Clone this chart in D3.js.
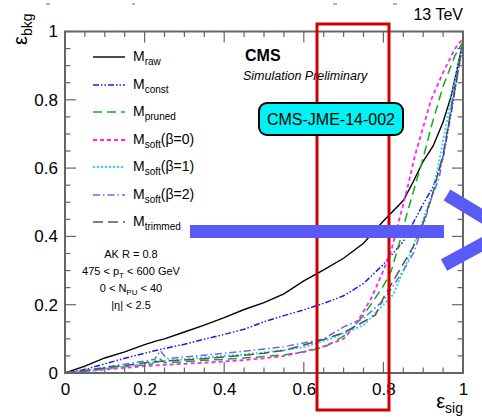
<!DOCTYPE html>
<html><head><meta charset="utf-8">
<script src="https://cdn.jsdelivr.net/npm/d3@7"></script>
<style>
body{margin:0;background:#fff;}
svg{display:block;font-family:"Liberation Sans",Arial,Helvetica,sans-serif;}
</style></head>
<body><svg id="c" width="482" height="419"></svg>
<script>
// ---- data ----
const rawData = [[0,0],[0.05,0.02],[0.1,0.044],[0.15,0.062],[0.2,0.083],[0.23,0.094],[0.25,0.1],[0.3,0.12],[0.35,0.14],[0.4,0.162],[0.45,0.186],[0.5,0.206],[0.55,0.232],[0.6,0.27],[0.65,0.302],[0.7,0.336],[0.75,0.38],[0.8,0.445],[0.85,0.505],[0.875,0.56],[0.9,0.62],[0.925,0.665],[0.95,0.735],[0.97,0.81],[0.985,0.89],[1,0.97]];
const constData = [[0,0],[0.05,0.01],[0.1,0.027],[0.15,0.043],[0.2,0.058],[0.25,0.072],[0.3,0.084],[0.35,0.099],[0.4,0.113],[0.45,0.128],[0.5,0.15],[0.55,0.168],[0.6,0.185],[0.65,0.204],[0.7,0.226],[0.75,0.262],[0.8,0.318],[0.85,0.385],[0.9,0.495],[0.925,0.545],[0.95,0.63],[0.97,0.76],[0.99,0.9],[1,0.97]];
const prunedData = [[0,0],[0.05,0.006],[0.1,0.012],[0.15,0.018],[0.2,0.024],[0.22,0.027],[0.235,0.045],[0.25,0.03],[0.3,0.033],[0.35,0.037],[0.4,0.04],[0.45,0.044],[0.5,0.048],[0.55,0.053],[0.6,0.062],[0.65,0.075],[0.7,0.108],[0.73,0.14],[0.75,0.17],[0.78,0.22],[0.8,0.255],[0.82,0.3],[0.84,0.38],[0.86,0.47],[0.88,0.55],[0.9,0.63],[0.92,0.72],[0.95,0.84],[0.98,0.93],[1,0.97]];
const soft0Data = [[0,0],[0.05,0.005],[0.1,0.01],[0.15,0.015],[0.2,0.02],[0.25,0.024],[0.3,0.027],[0.35,0.03],[0.4,0.034],[0.45,0.038],[0.5,0.043],[0.55,0.05],[0.6,0.062],[0.65,0.078],[0.7,0.1],[0.73,0.14],[0.75,0.18],[0.77,0.22],[0.8,0.3],[0.82,0.36],[0.84,0.45],[0.86,0.54],[0.88,0.64],[0.9,0.72],[0.92,0.8],[0.95,0.88],[0.98,0.95],[1,0.98]];
const soft1Data = [[0,0],[0.05,0.006],[0.1,0.013],[0.15,0.02],[0.2,0.027],[0.25,0.036],[0.3,0.04],[0.35,0.045],[0.4,0.05],[0.45,0.054],[0.5,0.06],[0.55,0.067],[0.6,0.076],[0.65,0.093],[0.7,0.116],[0.75,0.14],[0.8,0.2],[0.825,0.23],[0.85,0.3],[0.875,0.37],[0.9,0.45],[0.925,0.53],[0.94,0.62],[0.96,0.74],[0.98,0.86],[1,0.97]];
const soft2Data = [[0,0],[0.05,0.007],[0.1,0.017],[0.15,0.026],[0.2,0.035],[0.225,0.04],[0.24,0.065],[0.255,0.042],[0.3,0.047],[0.35,0.052],[0.4,0.058],[0.45,0.064],[0.5,0.07],[0.55,0.077],[0.6,0.088],[0.65,0.1],[0.7,0.135],[0.75,0.16],[0.8,0.212],[0.85,0.3],[0.875,0.35],[0.9,0.43],[0.92,0.51],[0.94,0.57],[0.96,0.7],[0.98,0.85],[1,0.96]];
const trimmedData = [[0,0],[0.05,0.007],[0.1,0.015],[0.15,0.022],[0.2,0.03],[0.25,0.035],[0.3,0.038],[0.35,0.042],[0.4,0.047],[0.45,0.052],[0.5,0.058],[0.55,0.066],[0.6,0.082],[0.65,0.098],[0.7,0.118],[0.75,0.15],[0.78,0.17],[0.8,0.22],[0.85,0.32],[0.875,0.37],[0.9,0.44],[0.925,0.53],[0.95,0.64],[0.97,0.77],[0.99,0.9],[1,0.97]];

const seriesNames = ["raw","const","pruned","soft","soft","soft","trimmed"];
const seriesSuffix = ["","","","(β=0)","(β=1)","(β=2)",""];
const seriesData = [rawData,constData,prunedData,soft0Data,soft1Data,soft2Data,trimmedData];
const xTickLabels = ["0","0.2","0.4","0.6","0.8","1"];
const yTickLabels = ["0","0.2","0.4","0.6","0.8","1"];
const infoLines = ["AK R = 0.8","475 < p_T < 600 GeV","0 < N_PU < 40","|η| < 2.5"];

// ---- styles ----
const styles = [
  {c:"#000000", d:null, w:1.4},
  {c:"#1a1aee", d:"6,2,1.5,2,1.5,2", w:1.5},
  {c:"#10b010", d:"9,5", w:1.5},
  {c:"#ff22ff", d:"4,3", w:1.8},
  {c:"#22e0e8", d:"2,2", w:2},
  {c:"#6a6ae8", d:"7,3,1.5,3", w:1.5},
  {c:"#555555", d:"10,5", w:1.5}
];

const svg = d3.select("#c");
const L=65, R=463, T=31.5, B=373;
const x = d3.scaleLinear().domain([0,1]).range([L,R]);
const y = d3.scaleLinear().domain([0,1]).range([B,T]);
const axisColor="#666";

// faint cut-off marks at the very top
[[46,50],[132,135],[333,337],[393,397]].forEach(p=>{
  svg.append("line").attr("x1",p[0]).attr("x2",p[1]).attr("y1",4).attr("y2",4).attr("stroke","#999").attr("stroke-width",1.5);
});

// curves
const line = d3.line().x(d=>x(d[0])).y(d=>y(d[1]));
seriesData.forEach((s,i)=>{
  svg.append("path").datum(s).attr("d",line).attr("fill","none")
    .attr("stroke",styles[i].c).attr("stroke-width",styles[i].w)
    .attr("stroke-dasharray",styles[i].d);
});

// axes frame with inward ticks
const minor = d3.range(0,1.0001,0.05);
const major = d3.range(0,1.0001,0.2);
function isMajor(v){return Math.abs(v*5-Math.round(v*5))<1e-6;}
const gAx = svg.append("g").attr("stroke",axisColor);
gAx.append("rect").attr("x",L).attr("y",T).attr("width",R-L).attr("height",B-T)
  .attr("fill","none").attr("stroke-width",2);
minor.forEach(v=>{
  const len = isMajor(v)?11:5.5;
  gAx.append("line").attr("x1",x(v)).attr("x2",x(v)).attr("y1",B).attr("y2",B-len).attr("stroke-width",1.2);
  gAx.append("line").attr("x1",x(v)).attr("x2",x(v)).attr("y1",T).attr("y2",T+len).attr("stroke-width",1.2);
  gAx.append("line").attr("y1",y(v)).attr("y2",y(v)).attr("x1",L).attr("x2",L+len).attr("stroke-width",1.2);
  gAx.append("line").attr("y1",y(v)).attr("y2",y(v)).attr("x1",R).attr("x2",R-len).attr("stroke-width",1.2);
});
// tick labels via axis generators (labels only)
const xAxis = d3.axisBottom(x).tickValues(major).tickSize(0).tickPadding(10)
  .tickFormat((d,i)=>xTickLabels[i]);
const gx = svg.append("g").attr("transform",`translate(0,${B})`).call(xAxis);
gx.select(".domain").remove();
gx.selectAll("text").attr("font-size",17).attr("fill","#000").attr("font-family","Liberation Sans, Arial, sans-serif");
const yAxis = d3.axisLeft(y).tickValues(major).tickSize(0).tickPadding(7)
  .tickFormat((d,i)=>yTickLabels[i]);
const gy = svg.append("g").attr("transform",`translate(${L},0)`).call(yAxis);
gy.select(".domain").remove();
gy.selectAll("text").attr("font-size",17).attr("fill","#000").attr("font-family","Liberation Sans, Arial, sans-serif");

// axis titles
const xt = svg.append("text").attr("x",R).attr("y",408).attr("text-anchor","end").attr("font-size",20);
xt.append("tspan").text("ε");
xt.append("tspan").attr("font-size",14).attr("dy",5).text("sig");
const yt = svg.append("text").attr("transform","translate(27,45) rotate(-90)").attr("text-anchor","start").attr("font-size",20);
yt.append("tspan").text("ε");
yt.append("tspan").attr("font-size",14).attr("dy",5).text("bkg");

// 13 TeV
svg.append("text").attr("x",R).attr("y",20).attr("text-anchor","end").attr("font-size",16).text("13 TeV");

// CMS labels
svg.append("text").attr("x",245).attr("y",61).attr("font-size",16).attr("font-weight","bold").text("CMS");
svg.append("text").attr("x",243).attr("y",80).attr("font-size",12.5).attr("font-style","italic").text("Simulation Preliminary");

// legend
const rowY = [57,85,112,140,167,195,222];
seriesData.forEach((s,i)=>{
  svg.append("line").attr("x1",93).attr("x2",125).attr("y1",rowY[i]).attr("y2",rowY[i])
    .attr("stroke",styles[i].c).attr("stroke-width",styles[i].w).attr("stroke-dasharray",styles[i].d);
  const t = svg.append("text").attr("x",133).attr("y",rowY[i]+4).attr("font-size",14);
  t.append("tspan").text("M");
  t.append("tspan").attr("font-size",10).attr("dy",4).text(seriesNames[i]);
  if(seriesSuffix[i]) t.append("tspan").attr("dy",-4).text(seriesSuffix[i]);
});

// info text
const infoY=[258,275,292,309];
infoLines.forEach((l,i)=>{
  const t = svg.append("text").attr("x",131).attr("y",infoY[i]).attr("text-anchor","middle").attr("font-size",11);
  const m = l.match(/^(.*?)([pN])_(\w+)(.*)$/);
  if(m){
    t.append("tspan").text(m[1]+m[2]);
    t.append("tspan").attr("font-size",8).attr("dy",3).text(m[3]);
    t.append("tspan").attr("dy",-3).text(m[4]);
  } else t.text(l);
});

// annotations overlay
svg.append("rect").attr("x",317).attr("y",24).attr("width",72).attr("height",386)
  .attr("fill","none").attr("stroke","#d00000").attr("stroke-width",3);
svg.append("rect").attr("x",259).attr("y",103).attr("width",144).attr("height",32).attr("rx",8)
  .attr("fill","#00f2f2").attr("stroke","#000").attr("stroke-width",2);
svg.append("text").attr("x",331).attr("y",125).attr("text-anchor","middle").attr("font-size",16).text("CMS-JME-14-002");
const blue="#5a5af5";
svg.append("rect").attr("x",190).attr("y",225).attr("width",254).attr("height",13).attr("fill",blue);
svg.append("line").attr("x1",447).attr("y1",195).attr("x2",490).attr("y2",221).attr("stroke",blue).attr("stroke-width",13);
svg.append("line").attr("x1",444).attr("y1",265).attr("x2",490).attr("y2",240).attr("stroke",blue).attr("stroke-width",13);
</script></body></html>
